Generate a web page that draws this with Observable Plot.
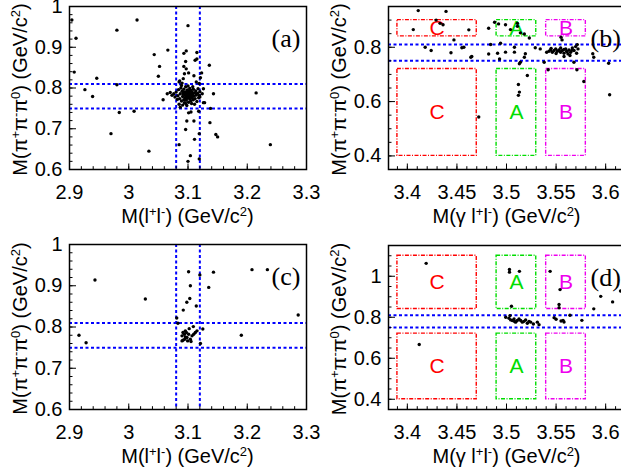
<!DOCTYPE html>
<html><head><meta charset="utf-8">
<script src="https://cdn.jsdelivr.net/npm/d3@7"></script>
<script src="https://cdn.jsdelivr.net/npm/@observablehq/plot@0.6"></script>
<style>
html,body{margin:0;padding:0;background:#fff;overflow:hidden}
#chart{position:relative;width:621px;height:474px;overflow:hidden;background:#fff}
#chart svg{position:absolute;overflow:visible;background:transparent}
</style></head><body><div id="chart"></div>
<script>
// ---------- data ----------
const pointsA = [
[2.904,0.967],[2.911,0.922],[2.908,0.839],[2.946,0.824],[2.926,0.796],[2.939,0.779],[2.980,0.942],[3.014,0.967],
[2.980,0.808],[2.984,0.740],[3.009,0.743],[2.970,0.688],[3.034,0.645],[3.043,0.882],[3.066,0.893],[3.052,0.853],
[3.050,0.829],[3.058,0.771],[3.100,0.953],[3.093,0.885],[3.097,0.891],[3.115,0.887],[3.112,0.868],[3.115,0.871],
[3.096,0.865],[3.097,0.847],[3.093,0.853],[3.094,0.835],[3.101,0.837],[3.110,0.830],[3.123,0.837],[3.121,0.825],
[3.136,0.856],[3.092,0.823],[3.085,0.815],[3.114,0.815],[3.119,0.811],[3.143,0.786],[3.215,0.788],[3.138,0.750],
[3.137,0.715],[3.147,0.686],[3.150,0.680],[3.239,0.661],[3.110,0.719],[3.098,0.719],[3.096,0.698],[3.119,0.688],
[3.111,0.674],[3.085,0.661],[3.104,0.634],[3.100,0.620],[3.119,0.626],[3.118,0.743],[3.105,0.741],[3.101,0.739],
[3.087,0.753],[3.128,0.764],[3.120,0.778],[3.086,0.817],[3.090,0.812],[3.070,0.789],[3.065,0.786],[3.073,0.782],
[3.126,0.798],[3.124,0.786],[3.126,0.764],[3.119,0.782],[3.096,0.762],
[3.080,0.790],[3.083,0.781],[3.084,0.796],[3.086,0.774],[3.087,0.786],[3.088,0.800],[3.089,0.768],[3.090,0.792],
[3.091,0.779],[3.092,0.785],[3.093,0.771],[3.093,0.797],[3.094,0.789],[3.095,0.776],[3.095,0.783],[3.096,0.803],
[3.097,0.770],[3.097,0.791],[3.098,0.780],[3.098,0.786],[3.099,0.775],[3.099,0.795],[3.100,0.783],[3.100,0.789],
[3.101,0.778],[3.101,0.765],[3.102,0.792],[3.102,0.784],[3.103,0.773],[3.103,0.799],[3.104,0.787],[3.104,0.780],
[3.105,0.769],[3.105,0.794],[3.106,0.782],[3.107,0.776],[3.107,0.790],[3.108,0.785],[3.109,0.771],[3.109,0.797],
[3.110,0.780],[3.111,0.788],[3.112,0.774],[3.113,0.793],[3.114,0.783],[3.115,0.767],[3.116,0.787],[3.117,0.798],
[3.118,0.776],[3.082,0.772],[3.085,0.760],[3.091,0.758],[3.094,0.764],[3.098,0.757],[3.106,0.762],[3.111,0.760],
[3.089,0.806],[3.100,0.805],[3.108,0.803],[3.078,0.778],[3.076,0.786],[3.120,0.791],[3.096,0.788],[3.101,0.781],
[3.099,0.784],[3.103,0.786],[3.097,0.779],[3.092,0.790],[3.106,0.777]
];
const pointsB = [
[3.411,0.935],[3.406,0.865],[3.429,0.900],[3.439,0.932],[3.436,0.883],[3.433,0.888],[3.462,0.864],[3.418,0.800],
[3.424,0.788],[3.447,0.827],[3.444,0.780],[3.455,0.798],[3.465,0.766],[3.472,0.543],[3.482,0.870],[3.488,0.892],
[3.492,0.886],[3.499,0.883],[3.504,0.865],[3.511,0.888],[3.511,0.877],[3.514,0.853],[3.518,0.849],[3.523,0.834],
[3.484,0.810],[3.482,0.775],[3.491,0.778],[3.494,0.815],[3.493,0.757],[3.499,0.782],[3.508,0.782],[3.508,0.800],
[3.513,0.739],[3.514,0.745],[3.518,0.763],[3.519,0.776],[3.521,0.696],[3.512,0.663],[3.513,0.635],[3.512,0.623],
[3.464,0.763],[3.529,0.798],[3.534,0.794],[3.538,0.745],[3.542,0.717],[3.571,0.717],[3.578,0.674],[3.568,0.745],
[3.587,0.776],[3.588,0.763],[3.603,0.741],[3.604,0.625],[3.555,0.837],[3.556,0.827],[3.457,0.800],
[3.5405,0.7817],[3.5428,0.7853],[3.5445,0.7902],[3.5462,0.7817],[3.5479,0.7878],[3.5496,0.7939],[3.5513,0.7853],
[3.5529,0.7902],[3.5546,0.7817],[3.5546,0.7976],[3.5563,0.7878],[3.5580,0.7780],[3.5597,0.7939],[3.5607,0.7853],
[3.5620,0.7755],[3.5630,0.7902],[3.5647,0.7817],[3.5664,0.7976],[3.5681,0.7878],[3.5697,0.8024],[3.5714,0.8098],
[3.5721,0.7939],[3.5707,0.7780],[3.5640,0.7694],[3.5580,0.7658],[3.553,0.788],[3.558,0.792],[3.561,0.783],
[3.566,0.789],[3.550,0.777],[3.545,0.796]
];
const pointsC = [
[2.916,0.780],[2.928,0.762],[2.943,0.914],[3.028,0.868],[3.101,0.934],[3.120,0.926],[3.104,0.900],[3.103,0.869],
[3.098,0.860],[3.092,0.841],[3.114,0.851],[3.135,0.896],[3.143,0.933],[3.208,0.939],[3.234,0.939],[3.286,0.829],
[3.190,0.780],[3.081,0.822],[3.083,0.809],[3.121,0.760],[3.125,0.795],[3.102,0.796],[3.109,0.801],
[3.0915,0.7866],[3.0938,0.7826],[3.0972,0.7866],[3.0899,0.7785],[3.0955,0.7761],[3.0915,0.7680],[3.0983,0.7744],
[3.0994,0.7663],[3.1039,0.7704],[3.1068,0.7785],[3.1096,0.7826],[3.1124,0.7866],[3.1051,0.7647],[3.1011,0.7826],
[3.0955,0.7907],[3.1152,0.7907],[3.0899,0.7663],[3.0944,0.7704]
];
const pointsD = [
[3.419,1.063],[3.412,0.667],[3.503,1.033],[3.503,1.020],[3.513,1.024],[3.544,1.024],[3.505,0.854],[3.554,0.935],
[3.553,0.862],[3.553,0.846],[3.588,0.841],[3.595,0.902],[3.607,0.875],[3.615,0.928],
[3.548,0.798],[3.550,0.790],[3.557,0.785],[3.558,0.777],[3.555,0.782],[3.564,0.810],[3.576,0.785],
[3.4992,0.800],[3.5025,0.795],[3.5042,0.787],[3.5059,0.784],[3.5082,0.779],[3.5109,0.784],[3.5126,0.792],
[3.5143,0.784],[3.5160,0.776],[3.5176,0.780],[3.5210,0.771],[3.5244,0.776],[3.5271,0.767],[3.5311,0.776],
[3.5328,0.764],[3.5035,0.808],[3.5076,0.792],[3.5193,0.787],[3.5227,0.780],[3.5092,0.776]
];
// signal windows (dashed blue lines)
const jpsiWindow = [3.08, 3.12];
const omegaWindow = [0.75, 0.81];
// sideband boxes
const boxesB = [
  {name:"C", x1:3.39, x2:3.47, y1:0.84, y2:0.90, color:"#ff0000"},
  {name:"A", x1:3.49, x2:3.53, y1:0.84, y2:0.90, color:"#00dd00"},
  {name:"B", x1:3.54, x2:3.58, y1:0.84, y2:0.90, color:"#ee00ee"},
  {name:"C", x1:3.39, x2:3.47, y1:0.40, y2:0.72, color:"#ff0000"},
  {name:"A", x1:3.49, x2:3.53, y1:0.40, y2:0.72, color:"#00dd00"},
  {name:"B", x1:3.54, x2:3.58, y1:0.40, y2:0.72, color:"#ee00ee"}
];
const boxesD = [
  {name:"C", x1:3.39, x2:3.47, y1:0.84, y2:1.10, color:"#ff0000"},
  {name:"A", x1:3.49, x2:3.53, y1:0.84, y2:1.10, color:"#00dd00"},
  {name:"B", x1:3.54, x2:3.58, y1:0.84, y2:1.10, color:"#ee00ee"},
  {name:"C", x1:3.39, x2:3.47, y1:0.40, y2:0.72, color:"#ff0000"},
  {name:"A", x1:3.49, x2:3.53, y1:0.40, y2:0.72, color:"#00dd00"},
  {name:"B", x1:3.54, x2:3.58, y1:0.40, y2:0.72, color:"#ee00ee"}
];
// tick labels
const xTicksLeft = [2.9, 3.0, 3.1, 3.2, 3.3];
const yTicksLeft = [0.6, 0.7, 0.8, 0.9, 1.0];
const xTicksRight = [3.4, 3.45, 3.5, 3.55, 3.6];
const yTicksB = [0.4, 0.6, 0.8];
const yTicksD = [0.4, 0.6, 0.8, 1.0];

// ---------- drawing ----------
const FONT = "'Liberation Sans', Arial, Helvetica, sans-serif";
const SERIF = "'Liberation Serif', 'DejaVu Serif', serif";
const fmt = d => String(+d.toFixed(3));
const steps = (a, b, s) => d3.range(Math.round((b - a) / s) + 1).map(i => +(a + i * s).toFixed(4));

const xTitleL = [["M(l",0],["+",1],["l",0],["-",1],[") (GeV/c",0],["2",1],[")",0]];
const xTitleR = [["M(\u03b3 l",0],["+",1],["l",0],["-",1],[") (GeV/c",0],["2",1],[")",0]];
const yTitle  = [["M(\u03c0",0],["+",1],["\u03c0",0],["-",1],["\u03c0",0],["0",1],[") (GeV/c",0],["2",1],[")",0]];

function richText(svg, parts, x, y, rotate) {
  const t = d3.select(svg).append("text")
    .attr("font-family", FONT).attr("font-size", 20).attr("text-anchor", "middle").attr("fill", "#000")
    .attr("transform", `translate(${x},${y})` + (rotate ? " rotate(-90)" : ""));
  let up = false;
  for (const [s, sup] of parts) {
    const ts = t.append("tspan").text(s);
    if (sup) { ts.attr("font-size", 13); if (!up) { ts.attr("dy", -7); up = true; } }
    else if (up) { ts.attr("dy", 7); up = false; }
  }
}

function panel(o) {
  const marks = [];
  if (o.boxes) {
    marks.push(Plot.rect(o.boxes, {x1:"x1", x2:"x2", y1:"y1", y2:"y2", fill:"none", stroke:"color",
      strokeWidth:1.4, strokeDasharray:"4,1.5,1,1.5"}));
    marks.push(Plot.text(o.boxes, {x: d => (d.x1 + d.x2) / 2, y: d => (d.y1 + d.y2) / 2, text:"name",
      fill:"color", fontSize:21, fontFamily:FONT}));
  }
  if (o.vlines) marks.push(Plot.ruleX(o.vlines, {stroke:"#0000ff", strokeWidth:2, strokeDasharray:"3,2.5"}));
  marks.push(Plot.ruleY(omegaWindow, {stroke:"#0000ff", strokeWidth:2, strokeDasharray:"3,2.5"}));
  marks.push(Plot.dot(o.data, {x: d => d[0], y: d => d[1], r:1.7, fill:"#000", stroke:"none"}));
  // inward ticks (ROOT style)
  marks.push(Plot.axisX({ticks:o.xMinor, tickSize:-2.8, tickFormat:() => "", label:null}));
  marks.push(Plot.axisX({ticks:o.xMajor, tickSize:-5.5, tickFormat:() => "", label:null}));
  marks.push(Plot.axisY({ticks:o.yMinor, tickSize:-3.5, tickFormat:() => "", label:null}));
  marks.push(Plot.axisY({ticks:o.yMajor, tickSize:-7, tickFormat:() => "", label:null}));
  marks.push(Plot.axisX({ticks:o.xMajor, tickSize:0, tickPadding:15, tickFormat:fmt, label:null,
    fontSize:20, fontFamily:FONT}));
  marks.push(Plot.axisY({ticks:o.yMajor, tickSize:0, tickPadding:7, tickFormat:fmt, label:null,
    fontSize:20, fontFamily:FONT}));
  marks.push(Plot.frame({stroke:"#000", strokeWidth:1.5}));
  marks.push(Plot.text([o.label], {frameAnchor:"top-right", textAnchor:"start", dx:-35, dy:22,
    fontFamily:SERIF, fontSize:26, fill:"#000"}));
  const svg = Plot.plot({
    width:o.width, height:o.height,
    marginTop:o.m[0], marginRight:o.m[1], marginBottom:o.m[2], marginLeft:o.m[3],
    x:{domain:o.xDomain, label:null}, y:{domain:o.yDomain, label:null},
    style:{background:"transparent", overflow:"visible", fontFamily:FONT, color:"#000"},
    marks
  });
  svg.style.left = o.left + "px";
  svg.style.top = o.top + "px";
  const fx = o.m[3] + (o.width - o.m[1] - o.m[3]) / 2;
  const fy = o.m[0] + (o.height - o.m[0] - o.m[2]) / 2;
  richText(svg, o.xTitle, fx, o.height - o.m[2] + 54, false);
  richText(svg, yTitle, o.m[3] - 42, fy + 2, true);
  document.getElementById("chart").appendChild(svg);
}

const common = {width:310, height:237};
panel({...common, left:0, top:0, m:[6,4,68,69], data:pointsA, label:"(a)",
  xDomain:[2.9,3.3], yDomain:[0.6,1.0], xMajor:xTicksLeft, xMinor:steps(2.9,3.3,0.02),
  yMajor:yTicksLeft, yMinor:steps(0.6,1.0,0.02), vlines:jpsiWindow, xTitle:xTitleL});
panel({...common, left:0, top:237, m:[7,4,65,69], data:pointsC, label:"(c)",
  xDomain:[2.9,3.3], yDomain:[0.6,1.0], xMajor:xTicksLeft, xMinor:steps(2.9,3.3,0.02),
  yMajor:yTicksLeft, yMinor:steps(0.6,1.0,0.02), vlines:jpsiWindow, xTitle:xTitleL});
panel({width:316, height:237, left:310, top:0, m:[6,1,68,78], data:pointsB, label:"(b)",
  xDomain:[3.381,3.62], yDomain:[0.35,0.95], xMajor:xTicksRight, xMinor:steps(3.39,3.62,0.01),
  yMajor:yTicksB, yMinor:steps(0.35,0.95,0.05), boxes:boxesB, xTitle:xTitleR});
panel({width:316, height:237, left:310, top:237, m:[8,1,65,78], data:pointsD, label:"(d)",
  xDomain:[3.381,3.62], yDomain:[0.35,1.15], xMajor:xTicksRight, xMinor:steps(3.39,3.62,0.01),
  yMajor:yTicksD, yMinor:steps(0.35,1.15,0.05), boxes:boxesD, xTitle:xTitleR});
</script></body></html>
